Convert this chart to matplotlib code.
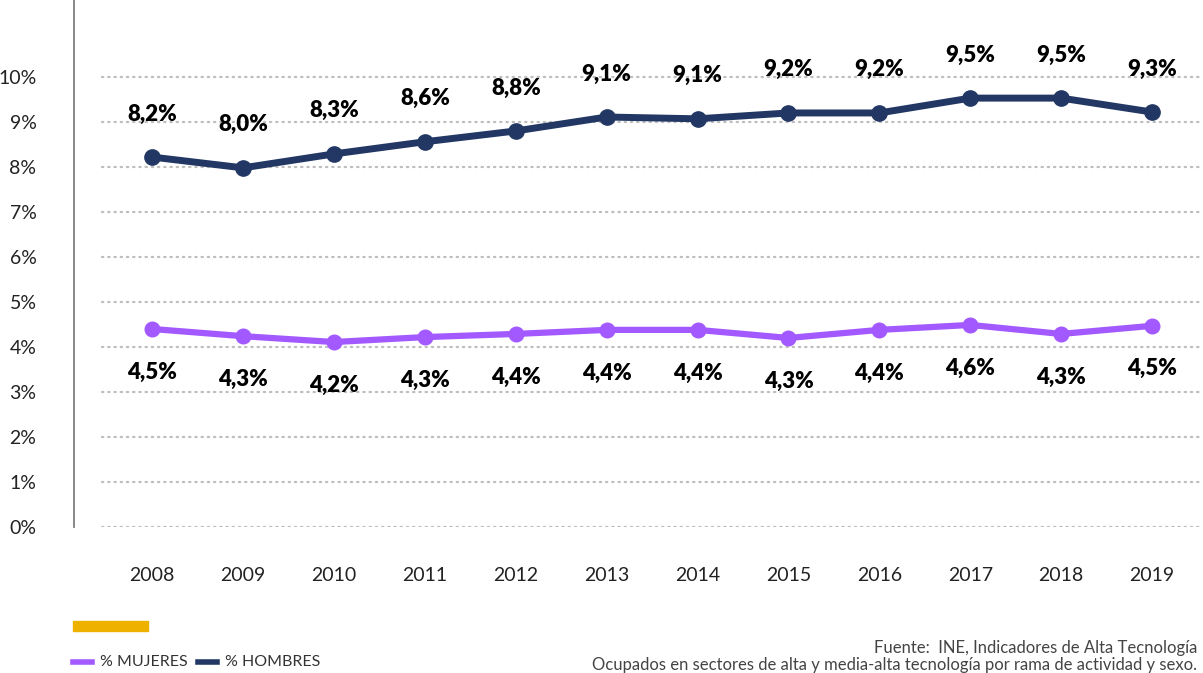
import matplotlib
matplotlib.use("Agg")
import matplotlib.pyplot as plt
from matplotlib.ticker import FuncFormatter

# data
years = [2008, 2009, 2010, 2011, 2012, 2013, 2014, 2015, 2016, 2017, 2018, 2019]
hombres = [8.22, 7.98, 8.29, 8.56, 8.80, 9.11, 9.07, 9.20, 9.20, 9.53, 9.53, 9.22]
mujeres = [4.40, 4.24, 4.11, 4.22, 4.29, 4.38, 4.38, 4.20, 4.38, 4.49, 4.29, 4.47]
hombres_labels = ['8,2%', '8,0%', '8,3%', '8,6%', '8,8%', '9,1%', '9,1%', '9,2%', '9,2%', '9,5%', '9,5%', '9,3%']
mujeres_labels = ['4,5%', '4,3%', '4,2%', '4,3%', '4,4%', '4,4%', '4,4%', '4,3%', '4,4%', '4,6%', '4,3%', '4,5%']
yticks = list(range(0, 11))

NAVY = '#223763'
PURPLE = '#A259FF'
GOLD = '#EFB100'

def format_pct(value, pos):
    return '{}%'.format(int(value))

plt.rcParams['font.family'] = ['Lato', 'DejaVu Sans']

fig = plt.figure(figsize=(12.03, 6.73), dpi=100)
ax = fig.add_axes([74 / 1203, (673 - 527) / 673, (1203 - 74) / 1203, 527 / 673])

ax.set_xlim(2007.14, 2019.56)
ax.set_ylim(0, 11.71)

# dotted gridlines
for t in yticks:
    ax.plot([2007.45, 2019.56], [t, t], color='#BDBDBD', lw=1.6,
            linestyle=(0, (0.6, 2.2)), dash_capstyle='round', zorder=1)

ax.plot(years, hombres, color=NAVY, lw=5, marker='o', markersize=11,
        solid_capstyle='round', zorder=3)
ax.plot(years, mujeres, color=PURPLE, lw=4.5, marker='o', markersize=10.5,
        solid_capstyle='round', zorder=3)

for x, y, lab in zip(years, hombres, hombres_labels):
    ax.annotate(lab, (x, y), xytext=(0, 31), textcoords='offset points',
                ha='center', va='center', fontsize=16, fontweight='heavy', color='black')
for x, y, lab in zip(years, mujeres, mujeres_labels):
    ax.annotate(lab, (x, y), xytext=(0, -31), textcoords='offset points',
                ha='center', va='center', fontsize=16, fontweight='heavy', color='black')

ax.set_yticks(yticks)
ax.yaxis.set_major_formatter(FuncFormatter(format_pct))
ax.set_xticks(years)
ax.tick_params(axis='both', length=0, labelsize=14, colors='#222222')
ax.tick_params(axis='y', pad=27)
ax.tick_params(axis='x', pad=29)

for side in ['top', 'right', 'bottom']:
    ax.spines[side].set_visible(False)
ax.spines['left'].set_color('#7F7F7F')
ax.spines['left'].set_linewidth(1.3)

# gold bar
fig.patches.append(plt.Rectangle((73 / 1203, (673 - 631) / 673), 75 / 1203, 10 / 673,
                                 transform=fig.transFigure, color=GOLD, figure=fig))

# legend
ly = (673 - 662) / 673
fig.add_artist(plt.Line2D([73 / 1203, 92 / 1203], [ly, ly], color=PURPLE, lw=4, transform=fig.transFigure))
fig.text(100 / 1203, ly, '% MUJERES', fontsize=11.5, color='#333333', va='center')
fig.add_artist(plt.Line2D([198 / 1203, 217 / 1203], [ly, ly], color=NAVY, lw=4, transform=fig.transFigure))
fig.text(225 / 1203, ly, '% HOMBRES', fontsize=11.5, color='#333333', va='center')

# source
fig.text(1197 / 1203, (673 - 648) / 673, 'Fuente:  INE, Indicadores de Alta Tecnología',
         fontsize=12, color='#444444', ha='right', va='center')
fig.text(1197 / 1203, (673 - 665) / 673,
         'Ocupados en sectores de alta y media-alta tecnología por rama de actividad y sexo.',
         fontsize=12, color='#444444', ha='right', va='center')

fig.savefig('out.png', dpi=100)
